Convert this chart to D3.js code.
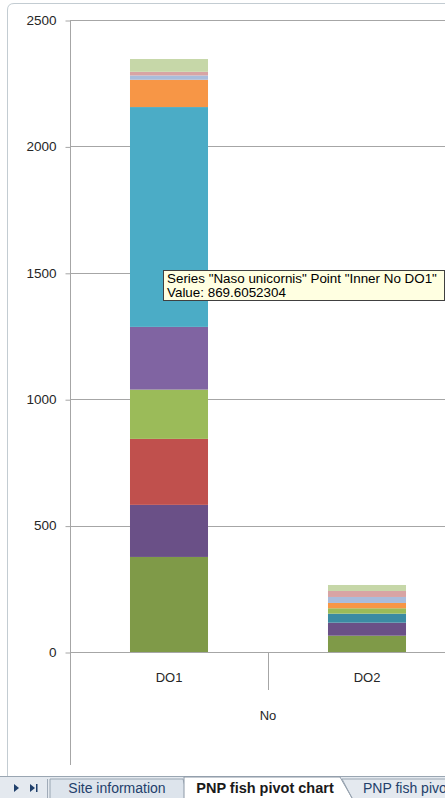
<!DOCTYPE html>
<html>
<head>
<meta charset="utf-8">
<script src="https://cdn.jsdelivr.net/npm/d3@7"></script>
<style>
  html, body { margin: 0; padding: 0; background: #ffffff; }
  svg { display: block; }
  text { font-family: "Liberation Sans", Arial, sans-serif; }
</style>
</head>
<body>
<svg id="chart" width="445" height="798"></svg>
<script>
// Pivot chart data: outer group "No", inner categories DO1 / DO2
const groupLabel = "No";
const categories = ["DO1", "DO2"];
const yTicks = [0, 500, 1000, 1500, 2000, 2500];

// Stacked series, bottom to top (value for DO1, value for DO2)
const seriesNames = [
  "Species 01", "Species 02", "Species 03", "Species 04", "Species 05",
  "Species 06", "Naso unicornis", "Species 08", "Species 09", "Species 10", "Species 11"
];
const seriesDO1 = [376, 206, 261, 0, 195, 248, 869.6052304, 108, 17, 14.5, 50.5];
const seriesDO2 = [64.5, 51.5, 0, 35.6, 21.4, 0, 0, 21, 23.7, 23.7, 23.7];
const seriesColors = [
  "#7f9a48", "#6a5087", "#c0504d", "#3b8ba3", "#9bbb59",
  "#8064a2", "#4bacc6", "#f79646", "#a9bcdb", "#d8a4a4", "#c6d7a8"
];

// Sheet tabs along the bottom
const sheetTabs = ["Site information", "PNP fish pivot chart", "PNP fish pivot"];
const activeTab = 1;

// Tooltip points at this series / category
const hoverSeries = "Naso unicornis";
const hoverCategory = "DO1";

const svg = d3.select("#chart");

// Build the table used by d3.stack
const rows = categories.map((c, i) => {
  const r = { category: c };
  seriesNames.forEach((s, j) => { r[s] = (i === 0 ? seriesDO1 : seriesDO2)[j]; });
  return r;
});
const stacked = d3.stack().keys(seriesNames)(rows);

const plotLeft = 70, plotRight = 466, plotTop = 20, plotBottom = 652;
const y = d3.scaleLinear().domain([0, 2500]).range([plotBottom, plotTop]);
const x = d3.scaleBand().domain(categories).range([plotLeft, plotRight])
  .paddingInner(0.606).paddingOuter(0.303);
const color = d3.scaleOrdinal().domain(seriesNames).range(seriesColors);

// Chart frame (rounded top-left corner, runs off the right edge)
svg.append("path")
  .attr("d", "M7.5,776 L7.5,10 Q7.5,3.5 14,3.5 L450,3.5")
  .attr("fill", "none").attr("stroke", "#c3ccd2").attr("stroke-width", 1);

// Gridlines
svg.append("g").selectAll("line").data(yTicks.filter(t => t > 0)).join("line")
  .attr("x1", plotLeft).attr("x2", 445)
  .attr("y1", d => Math.round(y(d)) + 0.5).attr("y2", d => Math.round(y(d)) + 0.5)
  .attr("stroke", "#a6a6a6").attr("stroke-width", 1);

// Stacked bars
svg.append("g").selectAll("g").data(stacked).join("g")
  .attr("fill", d => color(d.key))
  .selectAll("rect").data(d => d).join("rect")
  .attr("x", d => x(d.data.category))
  .attr("width", x.bandwidth())
  .attr("y", d => y(d[1]))
  .attr("height", d => Math.max(0, y(d[0]) - y(d[1])));

// Y axis
const yAxis = d3.axisLeft(y).tickValues(yTicks).tickFormat(d3.format("d")).tickSize(5).tickPadding(9);
const yg = svg.append("g").attr("transform", `translate(${plotLeft + 0.5},0)`).call(yAxis);
yg.select(".domain").remove();
yg.selectAll(".tick line").attr("stroke", "#a6a6a6").attr("transform", "translate(0,0.5)");
yg.selectAll(".tick text").attr("font-size", 13.5).attr("fill", "#262626")
  .attr("font-family", "Liberation Sans, Arial, sans-serif");
svg.append("line")
  .attr("x1", plotLeft + 0.5).attr("x2", plotLeft + 0.5)
  .attr("y1", plotTop).attr("y2", 765)
  .attr("stroke", "#a6a6a6");

// X axis line
svg.append("line")
  .attr("x1", plotLeft).attr("x2", 445)
  .attr("y1", plotBottom + 0.5).attr("y2", plotBottom + 0.5)
  .attr("stroke", "#a6a6a6");

// Inner category labels and divider between them
svg.append("g").selectAll("text").data(categories).join("text")
  .attr("x", d => x(d) + x.bandwidth() / 2)
  .attr("y", 682)
  .attr("text-anchor", "middle")
  .attr("font-size", 13).attr("fill", "#262626")
  .text(d => d);
const step = x.step();
svg.append("line")
  .attr("x1", Math.round(plotLeft + step) + 0.5).attr("x2", Math.round(plotLeft + step) + 0.5)
  .attr("y1", plotBottom).attr("y2", 690)
  .attr("stroke", "#a6a6a6");

// Outer group label
svg.append("text")
  .attr("x", plotLeft + step).attr("y", 720)
  .attr("text-anchor", "middle")
  .attr("font-size", 13).attr("fill", "#262626")
  .text(groupLabel);

// Hover tooltip
const si = seriesNames.indexOf(hoverSeries);
const ci = categories.indexOf(hoverCategory);
const hoverValue = (ci === 0 ? seriesDO1 : seriesDO2)[si];
const tip = svg.append("g").attr("transform", "translate(163.5,270.5)");
tip.append("rect").attr("width", 281).attr("height", 30)
  .attr("fill", "#ffffe1").attr("stroke", "#404040");
tip.append("text").attr("x", 3.5).attr("y", 12.5).attr("font-size", 13.4).attr("fill", "#000")
  .text(`Series "${hoverSeries}" Point "Inner ${groupLabel} ${hoverCategory}"`);
tip.append("text").attr("x", 3.5).attr("y", 26.5).attr("font-size", 13.4).attr("fill", "#000")
  .text(`Value: ${hoverValue}`);

// Sheet tab strip
const tabs = svg.append("g");
tabs.append("rect").attr("x", 0).attr("y", 776).attr("width", 445).attr("height", 22).attr("fill", "#e4e9ef");
tabs.append("line").attr("x1", 0).attr("x2", 445).attr("y1", 776.5).attr("y2", 776.5).attr("stroke", "#9aa6b2");
tabs.append("path").attr("d", "M14,784 L19,788 L14,792 Z").attr("fill", "#1f3f6b");
tabs.append("path").attr("d", "M30,784 L35,788 L30,792 Z M36,784 L37.5,784 L37.5,792 L36,792 Z").attr("fill", "#1f3f6b");
tabs.append("line").attr("x1", 47.5).attr("x2", 47.5).attr("y1", 779).attr("y2", 798).attr("stroke", "#a0abb8");
// inactive tab
tabs.append("path").attr("d", "M50,798 L50,779 L183,779 L188,798")
  .attr("fill", "#dde4ec").attr("stroke", "#9aa6b2");
// active tab
tabs.append("path").attr("d", "M184,798 L184,777 L340,777 L352,798")
  .attr("fill", "#ffffff").attr("stroke", "#8c98a6");
// next tab, partly visible
tabs.append("path").attr("d", "M352,798 L342,779 L445,779")
  .attr("fill", "none").attr("stroke", "#9aa6b2");
const tabX = [117, 265, 363];
tabs.selectAll("text").data(sheetTabs).join("text")
  .attr("x", (d, i) => tabX[i])
  .attr("y", 793)
  .attr("text-anchor", (d, i) => i === 2 ? "start" : "middle")
  .attr("font-size", (d, i) => i === activeTab ? 14.5 : 14)
  .attr("font-weight", (d, i) => i === activeTab ? "bold" : "normal")
  .attr("fill", (d, i) => i === activeTab ? "#1a1a1a" : "#23406b")
  .text(d => d);
</script>
</body>
</html>
